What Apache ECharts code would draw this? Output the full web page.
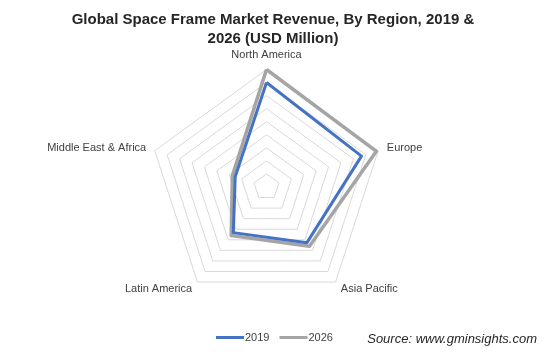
<!DOCTYPE html>
<html><head><meta charset="utf-8">
<script src="https://cdn.jsdelivr.net/npm/echarts@6/dist/echarts.min.js"></script>
<style>html,body{margin:0;padding:0;background:#fff}#c{width:555px;height:357px}</style>
</head><body><div id="c"></div>
<script>
// clockwise from top
const regions = ['North America', 'Europe', 'Asia Pacific', 'Latin America', 'Middle East & Africa'];
const values2019 = [800, 765, 527, 432, 252];
const values2026 = [900, 885, 560, 460, 275];
const axisMax = 900;
const seriesNames = ['2019', '2026'];

// ECharts radar runs counter-clockwise: reorder to keep the clockwise layout
const ccw = arr => [arr[0]].concat(arr.slice(1).reverse());

const chart = echarts.init(document.getElementById('c'));
chart.setOption({
  animation: false,
  title: {
    text: 'Global Space Frame Market Revenue, By Region, 2019 &\n2026 (USD Million)',
    left: 268, top: 5, textAlign: 'center',
    textStyle: { fontFamily: 'Liberation Sans, Arial', fontSize: 15, fontWeight: 'bold', color: '#262626', lineHeight: 19 }
  },
  legend: {
    data: seriesNames,
    bottom: 9, left: 211,
    icon: 'rect', itemWidth: 28, itemHeight: 3, itemGap: 10,
    textStyle: { fontFamily: 'Liberation Sans, Arial', fontSize: 11, color: '#404040', padding: [0,0,0,-4] }
  },
  graphic: [{
    type: 'text', right: 18, bottom: 11,
    style: { text: 'Source: www.gminsights.com', font: 'italic 13px "Liberation Sans", Arial', fill: '#262626' }
  }],
  radar: {
    center: [266.5, 187],
    radius: 117.5,
    startAngle: 90,
    splitNumber: 9,
    shape: 'polygon',
    indicator: ccw(regions).map(n => ({ name: n, max: axisMax, min: 0 })),
    nameGap: 9,
    axisName: { color: '#404040', fontFamily: 'Liberation Sans, Arial', fontSize: 11 },
    axisLine: { show: false },
    splitLine: { lineStyle: { color: '#D9D9D9', width: 1 } },
    splitArea: { show: false },
    axisTick: { show: false },
    axisLabel: { show: false }
  },
  series: [{
    type: 'radar',
    symbol: 'none',
    data: [
      { name: '2026', value: ccw(values2026), itemStyle: { color: '#A5A5A5' }, lineStyle: { color: '#A5A5A5', width: 3.5 } },
      { name: '2019', value: ccw(values2019), itemStyle: { color: '#4472C4' }, lineStyle: { color: '#4472C4', width: 3 } }
    ]
  }]
});
</script></body></html>
